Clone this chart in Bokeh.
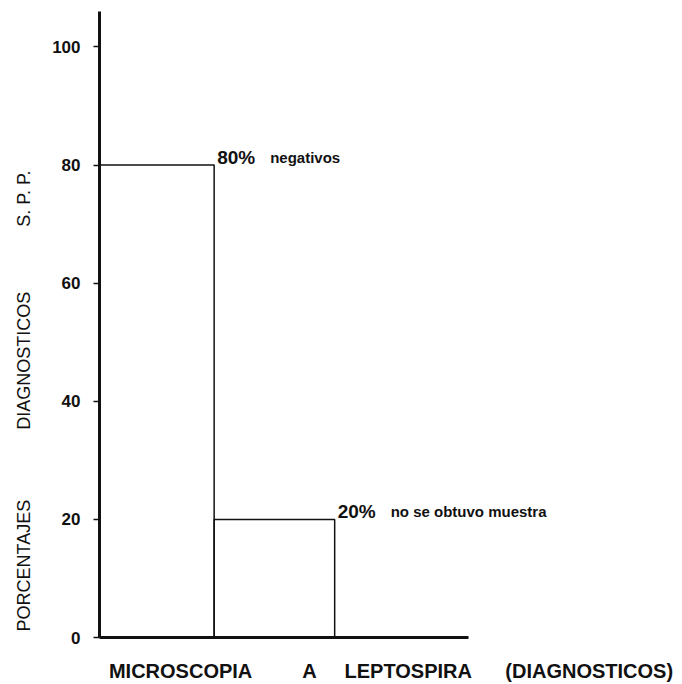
from bokeh.plotting import figure
from bokeh.models import Range1d, FixedTicker, Title, ColumnDataSource
from bokeh.embed import file_html
from bokeh.resources import INLINE
from bokeh.core.properties import value

# ---- data ----
categories = ["negativos", "no se obtuvo muestra"]
percentages = [80, 20]
pct_labels = ["80%", "20%"]
desc_labels = ["negativos", "no se obtuvo muestra"]
bar_left = [0.0, 0.975]
bar_right = [0.975, 2.0]
y_ticks = [0, 20, 40, 60, 80, 100]
NB = "\u00a0"
x_title = "MICROSCOPIA" + NB * 9 + "A" + NB * 5 + "LEPTOSPIRA" + NB * 6 + "(DIAGNOSTICOS)"
y_title = "PORCENTAJES" + NB * 14 + "DIAGNOSTICOS" + NB * 13 + "S. P. P."

INK = "#111111"

src = ColumnDataSource(dict(
    cat=categories, left=bar_left, right=bar_right,
    top=percentages, pct=pct_labels, desc=desc_labels,
))

p = figure(width=682, height=684, output_backend="svg", toolbar_location=None,
           x_range=Range1d(0, 4.958), y_range=Range1d(0, 106),
           min_border_left=97, min_border_right=0, min_border_top=11,
           min_border_bottom=46)
p.grid.visible = False
p.outline_line_color = None
p.background_fill_color = "white"
p.border_fill_color = "white"

p.quad(left="left", right="right", bottom=0, top="top", source=src,
       fill_color=None, line_color=INK, line_width=1.5)

p.text(x="right", y="top", text="pct", source=src, x_offset=3, y_offset=-8,
       text_font=value("Liberation Sans"), text_font_style="bold",
       text_font_size="19px", text_color=INK, text_baseline="middle")
p.text(x="right", y="top", text="desc", source=src, x_offset=56, y_offset=-8,
       text_font=value("Liberation Sans"), text_font_style="bold",
       text_font_size="15px", text_color=INK, text_baseline="middle")

# x axis: plain thick line, no ticks
xa = p.xaxis[0]
xa.ticker = FixedTicker(ticks=[])
xa.bounds = (0, 3.14)
xa.axis_line_width = 3
xa.axis_line_color = INK
xa.major_tick_line_color = None
xa.minor_tick_line_color = None
xa.major_label_text_font_size = "0px"
xa.axis_label = x_title
xa.axis_label_standoff = 22
xa.axis_label_text_font = "Liberation Sans"
xa.axis_label_text_font_style = "bold"
xa.axis_label_text_font_size = "20px"
xa.axis_label_text_color = INK

ya = p.yaxis[0]
ya.ticker = FixedTicker(ticks=y_ticks)
ya.axis_line_width = 3
ya.axis_line_color = INK
ya.major_tick_out = 6
ya.major_tick_in = 0
ya.major_tick_line_width = 1.5
ya.major_tick_line_color = INK
ya.minor_tick_line_color = None
ya.major_label_standoff = 13
ya.major_label_text_font = "Liberation Sans"
ya.major_label_text_font_style = "bold"
ya.major_label_text_font_size = "17px"
ya.major_label_text_color = INK

p.add_layout(Title(text=y_title, align="left", offset=6, vertical_align="top",
                   standoff=27, text_font="Liberation Sans",
                   text_font_style="normal", text_font_size="18px",
                   text_color=INK), "left")

open("out.html", "w").write(file_html(p, INLINE))
